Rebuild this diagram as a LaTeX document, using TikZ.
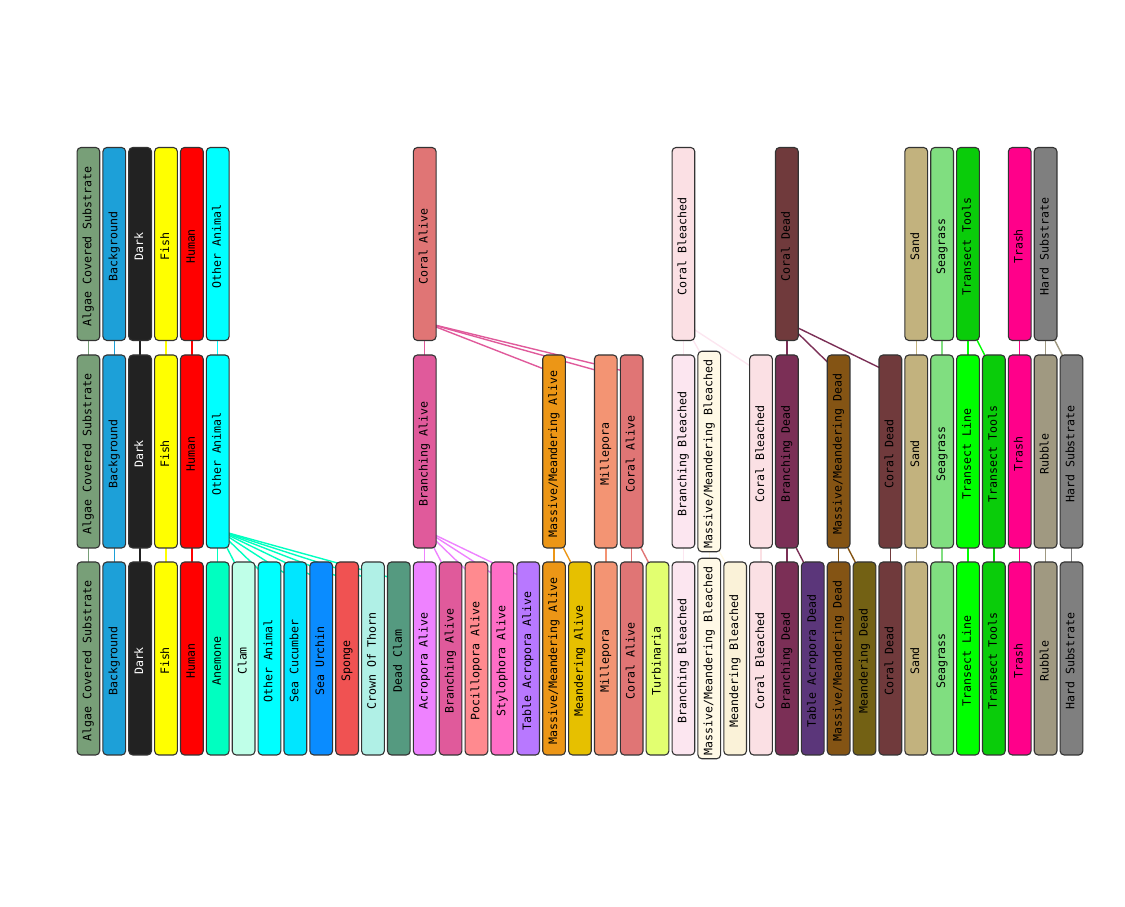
\documentclass[tikz,border=0pt]{standalone}
\usepackage{fontspec}
\setmonofont{DejaVu Sans Mono}
\definecolor{bord}{HTML}{333333}
\definecolor{acs}{HTML}{789F78}
\definecolor{bg}{HTML}{1DA0D8}
\definecolor{dark}{HTML}{222222}
\definecolor{fish}{HTML}{FFFF00}
\definecolor{human}{HTML}{FF0000}
\definecolor{oanim}{HTML}{00FFFF}
\definecolor{anem}{HTML}{00FFC0}
\definecolor{clam}{HTML}{BFFFE8}
\definecolor{seacuc}{HTML}{00E6FF}
\definecolor{urchin}{HTML}{0A8CFF}
\definecolor{sponge}{HTML}{F05252}
\definecolor{cot}{HTML}{B0F0E6}
\definecolor{deadclam}{HTML}{559A80}
\definecolor{acro}{HTML}{EE82FF}
\definecolor{branA}{HTML}{E05A9B}
\definecolor{poci}{HTML}{FF8A8F}
\definecolor{stylo}{HTML}{FF6EC7}
\definecolor{tacroA}{HTML}{B878FF}
\definecolor{mmA}{HTML}{EC9616}
\definecolor{meanA}{HTML}{E6C000}
\definecolor{mille}{HTML}{F39473}
\definecolor{coralA}{HTML}{E07575}
\definecolor{turb}{HTML}{E2FF70}
\definecolor{branB}{HTML}{FCE6F0}
\definecolor{mmB}{HTML}{FFF9E6}
\definecolor{meanB}{HTML}{FAF2D8}
\definecolor{coralB}{HTML}{FBE0E4}
\definecolor{branD}{HTML}{7B2F56}
\definecolor{tacroD}{HTML}{5B367A}
\definecolor{mmD}{HTML}{845414}
\definecolor{meanD}{HTML}{736114}
\definecolor{coralD}{HTML}{703A3C}
\definecolor{sand}{HTML}{C2B27E}
\definecolor{seagr}{HTML}{80DE80}
\definecolor{tline}{HTML}{00FF00}
\definecolor{ttools}{HTML}{0ACC0A}
\definecolor{trash}{HTML}{FF008A}
\definecolor{rubble}{HTML}{A09981}
\definecolor{hard}{HTML}{7F7F7F}
\pgfdeclarelayer{edges}
\pgfsetlayers{edges,main}
\tikzset{
  box/.style={draw=bord, line width=1.1pt, rounded corners=4pt, rotate=90,
    minimum width=193pt, minimum height=22.7pt, inner xsep=3.5pt, inner ysep=0pt,
    text height=8.5pt, text depth=2.5pt, text=black,
    font=\ttfamily\fontsize{11.6}{14}\selectfont},
  link/.style={line width=1.4pt},
}
\newcommand\mybox[5]{\node[box,fill=#4] (#1) at ({88.4+25.87*#2},#3) {#5\kern5pt};}
\newcommand\lnk[3]{\draw[link,draw=#3] ([yshift=18.5pt]#1.west) -- ([yshift=-18.5pt]#2.east);}
\begin{document}
\begin{tikzpicture}[x=1pt,y=1pt]
\useasboundingbox (0,0) rectangle (1125,907);
% top row
\def\yT{663}\def\yM{455.5}\def\yB{248.5}
\mybox{t0}{0}{\yT}{acs}{Algae Covered Substrate}
\mybox{t1}{1}{\yT}{bg}{Background}
\node[box,fill=dark,text=white] (t2) at ({88.4+25.87*2},\yT) {Dark\kern5pt};
\mybox{t3}{3}{\yT}{fish}{Fish}
\mybox{t4}{4}{\yT}{human}{Human}
\mybox{t5}{5}{\yT}{oanim}{Other Animal}
\mybox{t13}{13}{\yT}{coralA}{Coral Alive}
\mybox{t23}{23}{\yT}{coralB}{Coral Bleached}
\mybox{t27}{27}{\yT}{coralD}{Coral Dead}
\mybox{t32}{32}{\yT}{sand}{Sand}
\mybox{t33}{33}{\yT}{seagr}{Seagrass}
\mybox{t34}{34}{\yT}{ttools}{Transect Tools}
\mybox{t36}{36}{\yT}{trash}{Trash}
\mybox{t37}{37}{\yT}{hard}{Hard Substrate}
% middle row
\mybox{m0}{0}{\yM}{acs}{Algae Covered Substrate}
\mybox{m1}{1}{\yM}{bg}{Background}
\node[box,fill=dark,text=white] (m2) at ({88.4+25.87*2},\yM) {Dark\kern5pt};
\mybox{m3}{3}{\yM}{fish}{Fish}
\mybox{m4}{4}{\yM}{human}{Human}
\mybox{m5}{5}{\yM}{oanim}{Other Animal}
\mybox{m13}{13}{\yM}{branA}{Branching Alive}
\mybox{m18}{18}{\yM}{mmA}{Massive/Meandering Alive}
\mybox{m20}{20}{\yM}{mille}{Millepora}
\mybox{m21}{21}{\yM}{coralA}{Coral Alive}
\mybox{m23}{23}{\yM}{branB}{Branching Bleached}
\mybox{m24}{24}{\yM}{mmB}{Massive/Meandering Bleached}
\mybox{m26}{26}{\yM}{coralB}{Coral Bleached}
\mybox{m27}{27}{\yM}{branD}{Branching Dead}
\mybox{m29}{29}{\yM}{mmD}{Massive/Meandering Dead}
\mybox{m31}{31}{\yM}{coralD}{Coral Dead}
\mybox{m32}{32}{\yM}{sand}{Sand}
\mybox{m33}{33}{\yM}{seagr}{Seagrass}
\mybox{m34}{34}{\yM}{tline}{Transect Line}
\mybox{m35}{35}{\yM}{ttools}{Transect Tools}
\mybox{m36}{36}{\yM}{trash}{Trash}
\mybox{m37}{37}{\yM}{rubble}{Rubble}
\mybox{m38}{38}{\yM}{hard}{Hard Substrate}
% bottom row
\mybox{b0}{0}{\yB}{acs}{Algae Covered Substrate}
\mybox{b1}{1}{\yB}{bg}{Background}
\node[box,fill=dark,text=white] (b2) at ({88.4+25.87*2},\yB) {Dark\kern5pt};
\mybox{b3}{3}{\yB}{fish}{Fish}
\mybox{b4}{4}{\yB}{human}{Human}
\mybox{b5}{5}{\yB}{anem}{Anemone}
\mybox{b6}{6}{\yB}{clam}{Clam}
\mybox{b7}{7}{\yB}{oanim}{Other Animal}
\mybox{b8}{8}{\yB}{seacuc}{Sea Cucumber}
\mybox{b9}{9}{\yB}{urchin}{Sea Urchin}
\mybox{b10}{10}{\yB}{sponge}{Sponge}
\mybox{b11}{11}{\yB}{cot}{Crown Of Thorn}
\mybox{b12}{12}{\yB}{deadclam}{Dead Clam}
\mybox{b13}{13}{\yB}{acro}{Acropora Alive}
\mybox{b14}{14}{\yB}{branA}{Branching Alive}
\mybox{b15}{15}{\yB}{poci}{Pocillopora Alive}
\mybox{b16}{16}{\yB}{stylo}{Stylophora Alive}
\mybox{b17}{17}{\yB}{tacroA}{Table Acropora Alive}
\mybox{b18}{18}{\yB}{mmA}{Massive/Meandering Alive}
\mybox{b19}{19}{\yB}{meanA}{Meandering Alive}
\mybox{b20}{20}{\yB}{mille}{Millepora}
\mybox{b21}{21}{\yB}{coralA}{Coral Alive}
\mybox{b22}{22}{\yB}{turb}{Turbinaria}
\mybox{b23}{23}{\yB}{branB}{Branching Bleached}
\mybox{b24}{24}{\yB}{mmB}{Massive/Meandering Bleached}
\mybox{b25}{25}{\yB}{meanB}{Meandering Bleached}
\mybox{b26}{26}{\yB}{coralB}{Coral Bleached}
\mybox{b27}{27}{\yB}{branD}{Branching Dead}
\mybox{b28}{28}{\yB}{tacroD}{Table Acropora Dead}
\mybox{b29}{29}{\yB}{mmD}{Massive/Meandering Dead}
\mybox{b30}{30}{\yB}{meanD}{Meandering Dead}
\mybox{b31}{31}{\yB}{coralD}{Coral Dead}
\mybox{b32}{32}{\yB}{sand}{Sand}
\mybox{b33}{33}{\yB}{seagr}{Seagrass}
\mybox{b34}{34}{\yB}{tline}{Transect Line}
\mybox{b35}{35}{\yB}{ttools}{Transect Tools}
\mybox{b36}{36}{\yB}{trash}{Trash}
\mybox{b37}{37}{\yB}{rubble}{Rubble}
\mybox{b38}{38}{\yB}{hard}{Hard Substrate}
\begin{pgfonlayer}{edges}
% top -> middle
\lnk{t0}{m0}{acs}\lnk{t1}{m1}{bg}\lnk{t2}{m2}{dark}\lnk{t3}{m3}{fish}
\lnk{t4}{m4}{human}\lnk{t5}{m5}{oanim}
\foreach \c in {m13,m18,m20,m21} {\lnk{t13}{\c}{branA}}
\foreach \c in {m23,m24,m26} {\lnk{t23}{\c}{branB}}
\foreach \c in {m27,m29,m31} {\lnk{t27}{\c}{branD}}
\lnk{t32}{m32}{sand}\lnk{t33}{m33}{seagr}
\foreach \c in {m34,m35} {\lnk{t34}{\c}{tline}}
\lnk{t36}{m36}{trash}
\foreach \c in {m37,m38} {\lnk{t37}{\c}{rubble}}
% middle -> bottom
\lnk{m0}{b0}{acs}\lnk{m1}{b1}{bg}\lnk{m2}{b2}{dark}\lnk{m3}{b3}{fish}\lnk{m4}{b4}{human}
\foreach \c in {b5,b6,b7,b8,b9,b10,b11,b12} {\lnk{m5}{\c}{anem}}
\foreach \c in {b13,b14,b15,b16,b17} {\lnk{m13}{\c}{acro}}
\foreach \c in {b18,b19} {\lnk{m18}{\c}{mmA}}
\lnk{m20}{b20}{mille}
\foreach \c in {b21,b22} {\lnk{m21}{\c}{coralA}}
\lnk{m23}{b23}{branB}
\foreach \c in {b24,b25} {\lnk{m24}{\c}{mmB}}
\lnk{m26}{b26}{coralB}
\foreach \c in {b27,b28} {\lnk{m27}{\c}{branD}}
\foreach \c in {b29,b30} {\lnk{m29}{\c}{mmD}}
\lnk{m31}{b31}{coralD}
\lnk{m32}{b32}{sand}\lnk{m33}{b33}{seagr}\lnk{m34}{b34}{tline}\lnk{m35}{b35}{ttools}
\lnk{m36}{b36}{trash}\lnk{m37}{b37}{rubble}\lnk{m38}{b38}{hard}
\end{pgfonlayer}
\end{tikzpicture}
\end{document}
